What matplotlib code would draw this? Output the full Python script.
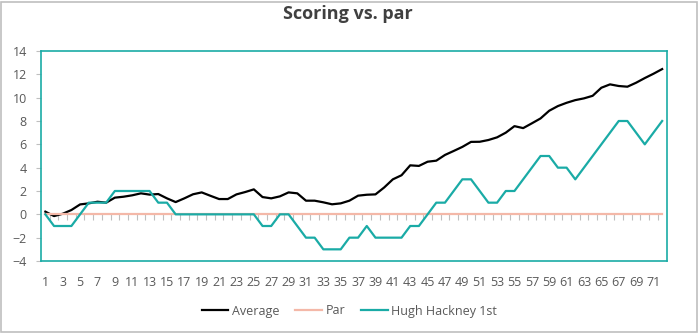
import numpy as np
import matplotlib
matplotlib.use("Agg")
import matplotlib.pyplot as plt
from matplotlib.patches import Rectangle

plt.rcParams['font.family'] = ['Open Sans', 'DejaVu Sans']

# data
holes = np.arange(1, 73)
average = [0.23, -0.15, 0.05, 0.37, 0.85, 0.94, 1.08, 1.0, 1.43, 1.51,
           1.63, 1.8, 1.69, 1.74, 1.37, 1.05, 1.37, 1.72, 1.88, 1.59,
           1.31, 1.31, 1.71, 1.91, 2.14, 1.48, 1.37, 1.54, 1.88, 1.8,
           1.17, 1.17, 1.03, 0.86, 0.94, 1.17, 1.6, 1.68, 1.71, 2.3,
           3.0, 3.35, 4.2, 4.15, 4.51, 4.6, 5.09, 5.43, 5.78, 6.21,
           6.22, 6.37, 6.6, 7.0, 7.56, 7.39, 7.8, 8.22, 8.88, 9.28,
           9.56, 9.79, 9.94, 10.16, 10.85, 11.14, 11.0, 10.94, 11.28, 11.68,
           12.05, 12.45]
par = [0] * 72
hackney = [0, -1, -1, -1, 0, 1, 1, 1, 2, 2,
           2, 2, 2, 1, 1, 0, 0, 0, 0, 0,
           0, 0, 0, 0, 0, -1, -1, 0, 0, -1,
           -2, -2, -3, -3, -3, -2, -2, -1, -2, -2,
           -2, -2, -1, -1, 0, 1, 1, 2, 3, 3,
           2, 1, 1, 2, 2, 3, 4, 5, 5, 4,
           4, 3, 4, 5, 6, 7, 8, 8, 7, 6,
           7, 8]
xlabels = [str(h) if h % 2 == 1 else '' for h in holes]

teal = '#1AABA6'
salmon = '#F4B8A8'
txt = '#595959'

fig = plt.figure(figsize=(6.99, 3.33), dpi=100)
ax = fig.add_axes([41 / 699, 1 - 261 / 333, 625.5 / 699, 210 / 333])

ax.plot(holes, average, color='black', lw=1.6, label='Average', solid_joinstyle='round')
ax.plot(holes, par, color=salmon, lw=1.6, label='Par')
ax.plot(holes, hackney, color=teal, lw=1.6, label='Hugh Hackney 1st', solid_joinstyle='round')

ax.set_xlim(0.5, 72.5)
ax.set_ylim(-4, 14)
ax.set_yticks(np.arange(-4, 15, 2))
ax.set_xticks(holes)
ax.set_xticklabels(xlabels)
ax.tick_params(axis='both', labelsize=9, labelcolor=txt)
ax.tick_params(axis='x', length=0, pad=11)
ax.tick_params(axis='y', length=3.6, width=0.8, color='#BFBFBF', pad=6.5)
for s in ax.spines.values():
    s.set_color(teal)
    s.set_linewidth(1.2)

# category axis crossing at zero, ticks between holes
zero_ax = ax.secondary_xaxis(4 / 18)
zero_ax.set_xticks(np.arange(1.5, 72, 1))
zero_ax.set_xticklabels([])
zero_ax.tick_params(length=4, color='#BFBFBF', width=0.8, direction='out')
zero_ax.spines['bottom'].set_visible(False)

fig.suptitle('Scoring vs. par', x=0.498, y=1 - 14 / 333, va='center',
             fontsize=13, fontweight='bold', color='#404040')

fig.legend(loc='center', bbox_to_anchor=(0.5, 1 - 311 / 333), ncol=3,
           frameon=False, fontsize=9, labelcolor=txt, handlelength=2.1,
           handletextpad=0.3, columnspacing=1.3)

fig.patches.append(Rectangle((1 / 699, 1 / 333), 696 / 699, 330 / 333,
                             transform=fig.transFigure, fill=False,
                             edgecolor='#BFBFBF', lw=1.2))

fig.savefig('out.png', dpi=100)
